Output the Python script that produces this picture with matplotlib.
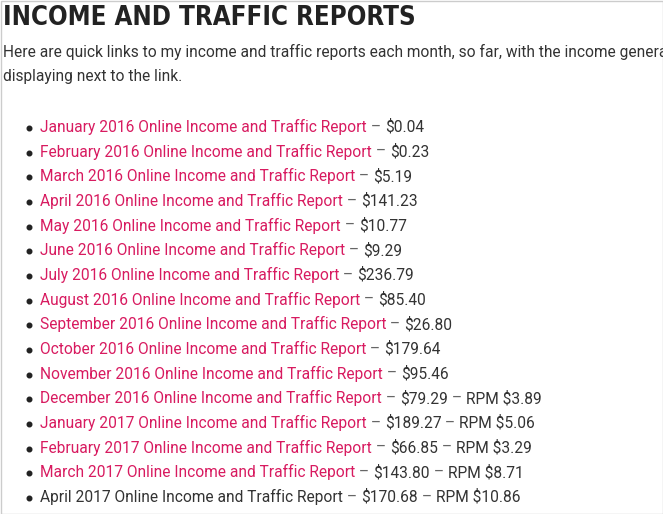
import matplotlib
matplotlib.use("Agg")
import matplotlib.pyplot as plt

months = ["January 2016", "February 2016", "March 2016", "April 2016", "May 2016",
          "June 2016", "July 2016", "August 2016", "September 2016", "October 2016",
          "November 2016", "December 2016", "January 2017", "February 2017",
          "March 2017", "April 2017"]
income = [0.04, 0.23, 5.19, 141.23, 10.77, 9.29, 236.79, 85.40, 26.80, 179.64,
          95.46, 79.29, 189.27, 66.85, 143.80, 170.68]
rpm = [None] * 11 + [3.89, 5.06, 3.29, 8.71, 10.86]
is_link = [True] * 15 + [False]

W, H = 663, 514
fig = plt.figure(figsize=(W / 100, H / 100), dpi=100)
fig.patch.set_facecolor("white")
ax = fig.add_axes([0, 0, 1, 1])
ax.set_xlim(0, W)
ax.set_ylim(H, 0)
ax.axis("off")
ax.add_patch(plt.Rectangle((0.5, 0.5), W - 1, H - 1, fill=False, ec="#cccccc", lw=1))

renderer = fig.canvas.get_renderer()
body = dict(family="Roboto", fontsize=11.2, fontweight="normal", va="center")
pink, dark, grey = "#d81b60", "#333333", "#666666"

ax.text(3, 18, "INCOME AND TRAFFIC REPORTS", family="DejaVu Sans", fontstretch="condensed",
        fontsize=18.5, fontweight="bold", color="#222222", va="center")
ax.text(3, 52, "Here are quick links to my income and traffic reports each month, so far, with the income generated",
        color=dark, **body)
ax.text(3, 77, "displaying next to the link.", color=dark, **body)


def put(x, y, s, color):
    t = ax.text(x, y, s, color=color, **body)
    bb = t.get_window_extent(renderer)
    return x + bb.width


y0, dy = 127, 24.67
for i, m in enumerate(months):
    y = y0 + i * dy
    ax.plot(29, y + 1, "o", ms=3.3, color="#222222")
    x = put(40, y, m + " Online Income and Traffic Report", pink if is_link[i] else dark)
    x = put(x, y, " \u2013 ", grey)
    x = put(x, y, f"${income[i]:,.2f}", dark)
    if rpm[i] is not None:
        x = put(x, y, " \u2013 ", grey)
        put(x, y, f"RPM ${rpm[i]:.2f}", dark)

fig.savefig("out.png", dpi=100)
